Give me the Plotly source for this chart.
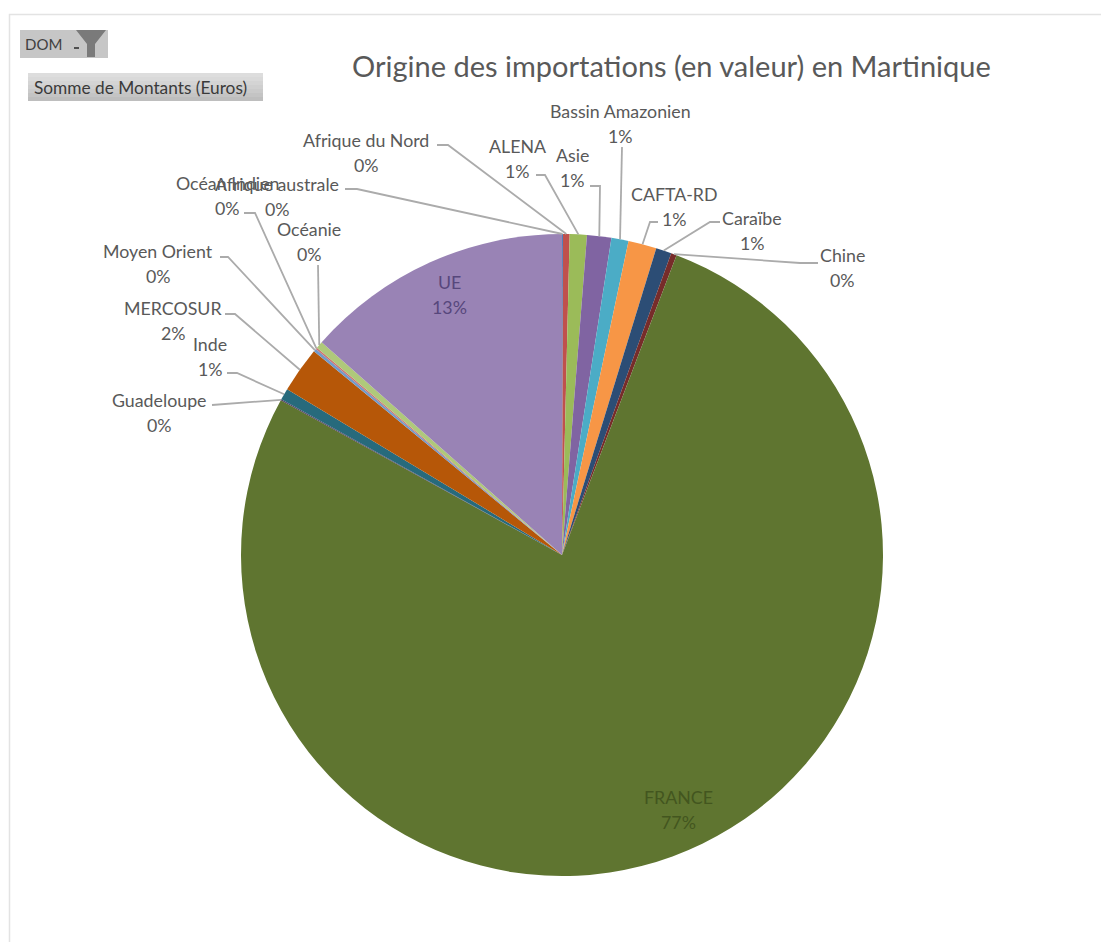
import math
import plotly.graph_objects as go

W, H = 1101, 942
CX, CY, R = 562, 555, 321

# ---- data ----
regions = ["Afrique australe", "Afrique du Nord", "ALENA", "Asie", "Bassin Amazonien",
           "CAFTA-RD", "Caraïbe", "Chine", "FRANCE", "Guadeloupe", "Inde", "MERCOSUR",
           "Moyen Orient", "Océan Indien", "Océanie", "UE"]
shares = [0.05, 0.33, 0.86, 1.22, 0.86, 1.42, 0.78, 0.28, 77.1, 0.05, 0.58, 2.30,
          0.15, 0.08, 0.36, 13.45]
slice_colors = ["#4F81BD", "#C0504D", "#9BBB59", "#8064A2", "#4BACC6", "#F79646",
                "#2C4D75", "#772C2A", "#5F7530", "#4D3B62", "#276A7C", "#B65708",
                "#729ACA", "#CD7371", "#AFC97A", "#9983B5"]
title_text = "Origine des importations (en valeur) en Martinique"
filter_text = "DOM"
field_text = "Somme de Montants (Euros)"

# ---- layout of the labels, pixels of the page ----
label_pos = {
    "Afrique australe": (277, 184), "Afrique du Nord": (366, 140), "ALENA": (517, 146),
    "Asie": (572, 155), "Bassin Amazonien": (620, 111), "CAFTA-RD": (674, 194),
    "Caraïbe": (752, 218), "Chine": (842, 255), "FRANCE": (678, 797), "Guadeloupe": (159, 400),
    "Inde": (210, 344), "MERCOSUR": (173, 308), "Moyen Orient": (158, 251),
    "Océan Indien": (227, 183), "Océanie": (309, 229), "UE": (449, 282),
}
leader_start = {
    "Afrique australe": [(345, 189), (357, 189)], "Afrique du Nord": [(437, 145), (448, 145)],
    "ALENA": [(536, 175), (545, 175)], "Asie": [(590, 186), (600, 186)],
    "Bassin Amazonien": [(622, 147)], "CAFTA-RD": [(658, 222), (650, 222)],
    "Caraïbe": [(720, 222), (710, 222)], "Chine": [(818, 263), (800, 263)],
    "Guadeloupe": [(212, 405)], "Inde": [(227, 373), (237, 373)],
    "MERCOSUR": [(225, 314), (235, 314)], "Moyen Orient": [(220, 257), (228, 257)],
    "Océan Indien": [(244, 213), (255, 213)], "Océanie": [(318, 265)],
}
inside_colors = {"UE": "#57477C", "FRANCE": "#43561F"}
FONT = "Lato, Carlito, Calibri, sans-serif"
LINE_GAP = 24.5
LABEL_SIZE = 17.8


def px(x):
    return x / W


def py(y):
    return 1 - y / H


total = sum(shares)
mid_angle = {}
acc = 0.0
for name, v in zip(regions, shares):
    mid_angle[name] = (acc + v / 2) / total * 2 * math.pi
    acc += v

fig = go.Figure(go.Pie(
    labels=regions, values=shares, sort=False, direction="clockwise", rotation=0,
    marker=dict(colors=slice_colors, line=dict(width=0)),
    textinfo="none", hoverinfo="label+percent", showlegend=False,
    domain=dict(x=[px(CX - R), px(CX + R)], y=[py(CY + R), py(CY - R)]),
))

shapes, annos = [], []


def rect(x0, y0, x1, y1, color):
    shapes.append(dict(type="rect", xref="paper", yref="paper", x0=px(x0), x1=px(x1),
                       y0=py(y1), y1=py(y0), fillcolor=color, line=dict(width=0), layer="above"))


def text(x, y, s, size, color, anchor="center"):
    annos.append(dict(x=px(x), y=py(y), xref="paper", yref="paper", text=s, showarrow=False,
                      xanchor=anchor, yanchor="middle",
                      font=dict(family=FONT, size=size, color=color)))


# frame of the screenshot
shapes.append(dict(type="path", xref="paper", yref="paper",
                   path=f"M {px(9.5)} {py(942)} L {px(9.5)} {py(14.5)} L {px(1101)} {py(14.5)}",
                   line=dict(color="#E3E3E3", width=1.5)))

# filter button
rect(20, 30, 108, 58, "#C6C6C6")
text(23, 44, filter_text, 15, "#404040", "left")
shapes.append(dict(type="path", xref="paper", yref="paper",
                   path=(f"M {px(76)} {py(30)} L {px(106)} {py(30)} L {px(95)} {py(44)} "
                         f"L {px(95)} {py(57)} L {px(87)} {py(57)} L {px(87)} {py(44)} Z"),
                   fillcolor="#7A7A7A", line=dict(width=0)))
rect(74, 47, 79, 49, "#505050")

# field button with a soft top-down shading
shade = ["#DDDDDD", "#D9D9D9", "#D4D4D4", "#CFCFCF", "#CACACA", "#C4C4C4", "#BEBEBE"]
for i, c in enumerate(shade):
    rect(28, 73 + 4 * i, 263, 77 + 4 * i, c)
text(32, 88, field_text, 17.3, "#3A3A3A", "left")

# title
text(671, 66, title_text, 29, "#595959")

# leaders: each runs from its label to the slice's middle on the rim
for name, pts in leader_start.items():
    a = mid_angle[name]
    end = (CX + R * math.sin(a), CY - R * math.cos(a))
    seq = pts + [end]
    d = "M " + " L ".join(f"{px(x)} {py(y)}" for x, y in seq)
    shapes.append(dict(type="path", xref="paper", yref="paper", path=d,
                       line=dict(color="#ABABAB", width=1.8), layer="above"))

# labels
for name, v in zip(regions, shares):
    x, y = label_pos[name]
    col = inside_colors.get(name, "#595959")
    text(x, y, name, LABEL_SIZE, col)
    text(x, y + LINE_GAP, f"{round(v / total * 100)}%", LABEL_SIZE, col)

fig.update_layout(width=W, height=H, margin=dict(l=0, r=0, t=0, b=0),
                  paper_bgcolor="white", plot_bgcolor="white",
                  shapes=shapes, annotations=annos)
fig.write_html("out.html", config=dict(displayModeBar=False),
               post_script="document.body.style.margin='0';document.body.style.overflow='hidden';")
